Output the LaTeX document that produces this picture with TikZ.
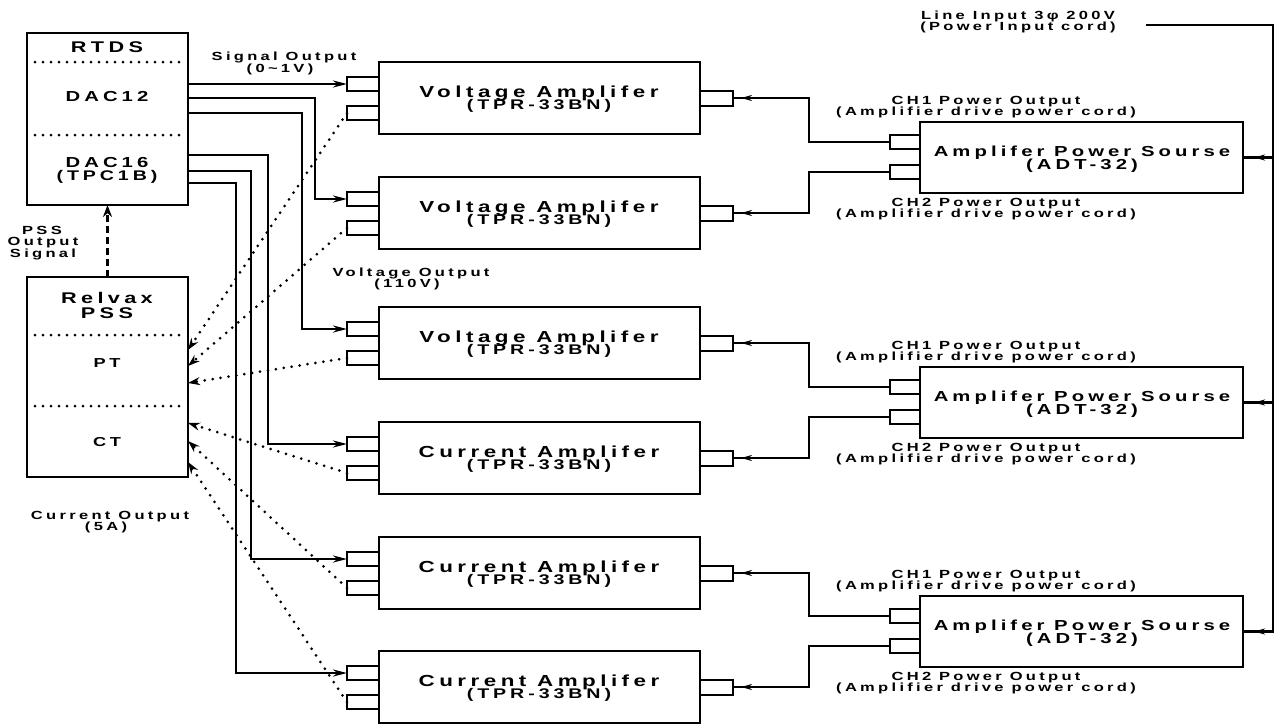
\documentclass[tikz,border=0pt]{standalone}
\usepackage{fontspec}
\usepackage{graphicx}
\setmainfont{Liberation Sans}[LetterSpace=20]
\usetikzlibrary{arrows.meta}
\newcommand{\fs}[2]{\scalebox{1.4}[1]{\fontsize{#1}{#1}\selectfont\bfseries #2}}
\begin{document}
\begin{tikzpicture}[x=1pt,y=-1pt,line width=2.4pt,
  every node/.style={inner sep=0pt,outer sep=0pt},
  blk/.style={draw,line width=2.5pt,anchor=north west},
  conn/.style={draw,line width=2pt,anchor=west,minimum height=14pt},
  txt/.style={anchor=base,align=center},
  sig/.style={-{Stealth[length=14pt,width=7pt]}},
  dotarr/.style={line width=3pt,line cap=round,dash pattern=on 0pt off 8pt,-{Stealth[length=12pt,width=8pt]}},
  sepdot/.style={line width=3pt,line cap=round,dash pattern=on 0pt off 8pt},
  midarr/.style={-{Stealth[length=11pt,width=6pt]}},
  pssarr/.style={line width=2.5pt,dash pattern=on 7pt off 4pt,-{Stealth[length=12pt,width=9pt]}}
]
\useasboundingbox (0,0) rectangle (1275,724);

% RTDS
\node[blk,minimum width=161pt,minimum height=172pt] (rtds) at (27,33) {};
\draw[sepdot] (35,62) -- (184,62);
\draw[sepdot] (35,135) -- (184,135);
\node[txt] at (107,52) {\fs{15.5}{RTDS}};
\node[txt] at (107,101) {\fs{14.5}{DAC12}};
\node[txt] at (107,167) {\fs{14.5}{DAC16}};
\node[txt] at (107,180) {\fs{14}{(TPC1B)}};

% Relvax PSS
\node[blk,minimum width=161pt,minimum height=200pt] (pss) at (27,277) {};
\draw[sepdot] (35,335) -- (184,335);
\draw[sepdot] (35,406) -- (184,406);
\node[txt] at (107,303) {\fs{15.5}{Relvax}};
\node[txt] at (107,318) {\fs{15.5}{PSS}};
\node[txt] at (107,367) {\fs{13}{PT}};
\node[txt] at (107,446) {\fs{13}{CT}};

% amplifiers
\foreach \n/\t/\w in {1/62/Voltage,2/177/Voltage,3/307/Voltage,4/422/Current,5/537/Current,6/651/Current}{
  \node[blk,minimum width=321pt,minimum height=72pt] (a\n) at (379,\t) {};
  \node[conn,minimum width=32pt] (ai\n) at (347,\t+22) {};
  \node[conn,minimum width=32pt] (aj\n) at (347,\t+51) {};
  \node[conn,minimum width=33pt,minimum height=15pt] (ao\n) at (700,\t+36) {};
  \node[txt] at (539,\t+35.5) {\fs{16}{\w\ Amplifer}};
  \node[txt] at (539,\t+47.5) {\fs{14}{(TPR-33BN)}};
}

% power sources
\foreach \n/\p in {1/122,2/367,3/596}{
  \node[blk,minimum width=323pt,minimum height=71pt] (p\n) at (920,\p) {};
  \node[conn,minimum width=30pt] (pi\n) at (890,\p+20) {};
  \node[conn,minimum width=30pt] (pj\n) at (890,\p+50) {};
  \node[txt] at (1082,\p+34) {\fs{14.5}{Amplifer Power Sourse}};
  \node[txt] at (1082,\p+47) {\fs{14.5}{(ADT-32)}};
  \node[txt] at (986,\p-18) {\fs{11.8}{CH1 Power Output}};
  \node[txt] at (986,\p-6.5) {\fs{11.8}{(Amplifier drive power cord)}};
  \node[txt] at (986,\p+84) {\fs{11.8}{CH2 Power Output}};
  \node[txt] at (986,\p+95.5) {\fs{11.8}{(Amplifier drive power cord)}};
}

% power cords PS -> amplifiers
\foreach \n/\a/\b in {1/1/2,2/3/4,3/5/6}{
  \draw (pi\n.west) -| ([xshift=76pt]ao\a.east) -- (ao\a.east);
  \draw (pj\n.west) -| ([xshift=76pt]ao\b.east) -- (ao\b.east);
  \draw[midarr] ([xshift=26pt]ao\a.east) -- ([xshift=8pt]ao\a.east);
  \draw[midarr] ([xshift=26pt]ao\b.east) -- ([xshift=8pt]ao\b.east);
}

% line input bus
\coordinate (lin) at (1146,25);
\draw (lin) -- (1273,25) |- (p3.east);
\draw (p1.east) -- (1273,0 |- p1.east);
\draw (p2.east) -- (1273,0 |- p2.east);
\foreach \n in {1,2,3}{
  \draw[midarr] ([xshift=27pt]p\n.east) -- ([xshift=11pt]p\n.east);
}
\node[txt] at (1018,19.5) {\fs{11.8}{Line Input 3φ 200V}};
\node[txt] at (1018,30.5) {\fs{11.8}{(Power Input cord)}};

% signal outputs RTDS -> amplifiers
\draw[sig] (rtds.east |- ai1.west) -- (ai1.west);
\draw[sig] (rtds.east |- 0,98) -| (315,0 |- ai2.west) -- (ai2.west);
\draw[sig] (rtds.east |- 0,113) -| (302,0 |- ai3.west) -- (ai3.west);
\draw[sig] (rtds.east |- 0,155) -| (268,0 |- ai4.west) -- (ai4.west);
\draw[sig] (rtds.east |- 0,171) -| (251,0 |- ai5.west) -- (ai5.west);
\draw[sig] (rtds.east |- 0,183) -| (236,0 |- ai6.west) -- (ai6.west);

% amplifier outputs -> PT / CT
\draw[dotarr] (aj1.west) -- (pss.east |- 0,350);
\draw[dotarr] (aj2.west) -- (pss.east |- 0,366);
\draw[dotarr] (aj3.west) -- (pss.east |- 0,383);
\draw[dotarr] (aj4.west) -- (pss.east |- 0,423);
\draw[dotarr] (aj5.west) -- (pss.east |- 0,441);
\draw[dotarr] (aj6.west) -- (pss.east |- 0,462);

% PSS output signal
\draw[pssarr] (pss.north) -- (rtds.south);

% labels
\node[txt] at (284,60) {\fs{11.8}{Signal Output}};
\node[txt] at (280,72) {\fs{11.8}{(0\textasciitilde1V)}};
\node[txt] at (42,234) {\fs{11.8}{PSS}};
\node[txt] at (43,245.5) {\fs{11.8}{Output}};
\node[txt] at (43,257) {\fs{11.8}{Signal}};
\node[txt] at (411,276) {\fs{11.8}{Voltage Output}};
\node[txt] at (407,287.5) {\fs{11.8}{(110V)}};
\node[txt] at (110,519) {\fs{11.8}{Current Output}};
\node[txt] at (106,530.5) {\fs{11.8}{(5A)}};
\end{tikzpicture}
\end{document}
